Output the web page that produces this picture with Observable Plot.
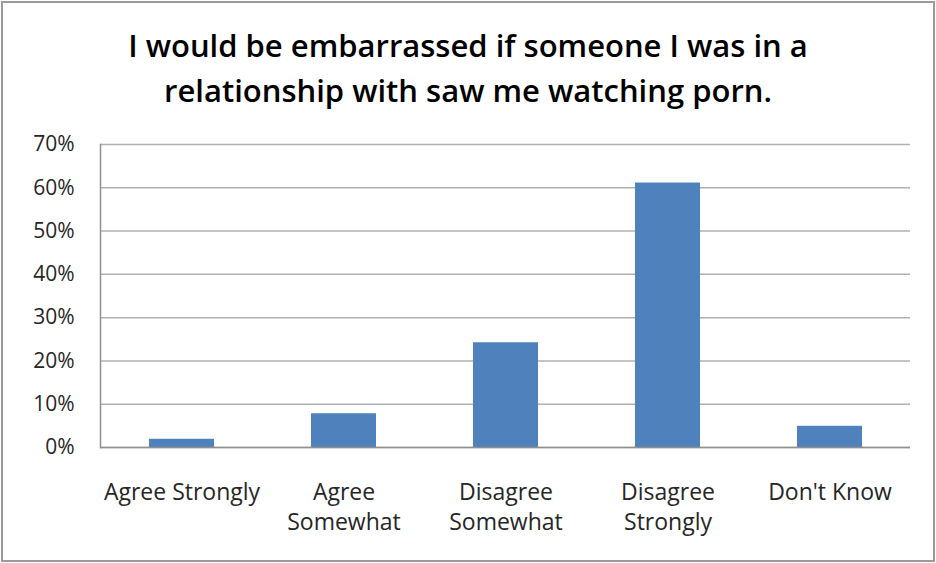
<!DOCTYPE html>
<html>
<head>
<meta charset="utf-8">
<script src="https://cdn.jsdelivr.net/npm/d3@7"></script>
<script src="https://cdn.jsdelivr.net/npm/@observablehq/plot@0.6"></script>
<style>
  html, body { margin: 0; padding: 0; background: #fff; }
  #wrap { position: relative; width: 936px; height: 563px; overflow: hidden; font-family: "Open Sans", sans-serif; }
  #frame { position: absolute; left: 1px; top: 1px; width: 930px; height: 557px; border: 2px solid #9a9a9a; box-sizing: content-box; pointer-events: none; }
  #title { position: absolute; left: 0; top: 23px; width: 936px; text-align: center; font-weight: 600; font-size: 31px; line-height: 45px; color: #000; }
  #chart { position: absolute; left: 0; top: 0; }
</style>
</head>
<body>
<div id="wrap">
  <div id="chart"></div>
  <div id="title">I would be embarrassed if someone I was in a<br>relationship with saw me watching porn.</div>
  <div id="frame"></div>
</div>
<script>
const categories = ["Agree Strongly", "Agree\nSomewhat", "Disagree\nSomewhat", "Disagree\nStrongly", "Don't Know"];
const values = [1.9, 7.8, 24.2, 61.1, 4.9];
const yTicks = [0, 10, 20, 30, 40, 50, 60, 70];

const data = categories.map((c, i) => ({category: c, value: values[i]}));

const chart = Plot.plot({
  width: 936,
  height: 563,
  marginTop: 144,
  marginBottom: 116,
  marginLeft: 100,
  marginRight: 26,
  style: {fontFamily: '"Open Sans", sans-serif', fontSize: "21px", color: "#262626", background: "transparent"},
  x: {domain: categories, paddingInner: 0.6, paddingOuter: 0.3, label: null},
  y: {domain: [0, 70], label: null},
  marks: [
    Plot.gridY(yTicks, {stroke: "#b0b0b0", strokeOpacity: 1, strokeWidth: 1.5}),
    Plot.barY(data, {x: "category", y: "value", fill: "#4f81bd"}),
    Plot.frame({anchor: "left", stroke: "#909090", strokeWidth: 1.5}),
    Plot.ruleY([0], {stroke: "#909090", strokeWidth: 1.5}),
    Plot.axisY(yTicks, {tickFormat: d => d + "%", tickSize: 0, tickPadding: 26, label: null, fontSize: 21, fill: "#262626"}),
    Plot.axisX({tickSize: 0, tickPadding: 31, label: null, fontSize: 23, lineHeight: 1.3, fill: "#262626"})
  ]
});
document.getElementById("chart").appendChild(chart);
</script>
</body>
</html>
